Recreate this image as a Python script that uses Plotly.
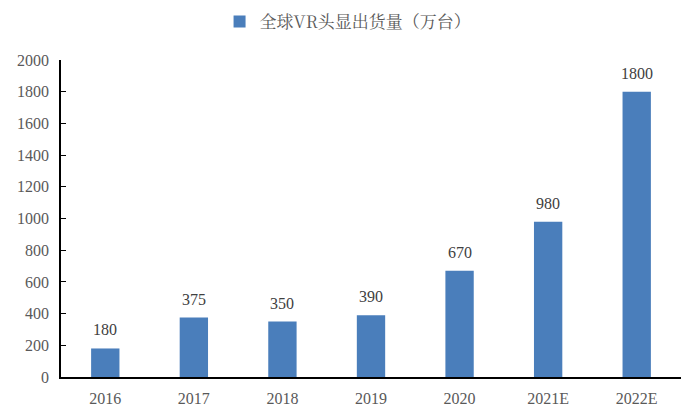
import plotly.graph_objects as go

categories = ["2016", "2017", "2018", "2019", "2020", "2021E", "2022E"]
values = [180, 375, 350, 390, 670, 980, 1800]
series_name = "全球VR头显出货量（万台）"
y_ticks = [0, 200, 400, 600, 800, 1000, 1200, 1400, 1600, 1800, 2000]

fig = go.Figure()
fig.add_trace(go.Bar(
    x=categories, y=values, name=series_name,
    marker=dict(color="#4A7EBB", line=dict(width=0)),
    width=0.32,
    showlegend=True,
))
# value labels, placed at each category's index on the category axis
for i, v in enumerate(values):
    fig.add_annotation(x=i, y=v, text=str(v), showarrow=False,
                       yanchor="bottom", yshift=8,
                       font=dict(family="Liberation Serif", size=16, color="#404040"))

fig.update_layout(
    width=692, height=405,
    margin=dict(l=53, r=19, t=52, b=36, autoexpand=False),
    paper_bgcolor="white", plot_bgcolor="white",
    showlegend=True,
    legend=dict(orientation="h", x=0.463, xanchor="center", y=1.12, yanchor="middle",
                font=dict(family="Noto Serif CJK SC, Noto Sans CJK SC", size=17, color="#595959"),
                itemwidth=30),
)
fig.update_xaxes(
    type="category", categoryorder="array", categoryarray=categories,
    range=[-0.5, len(categories) - 0.5],
    showline=True, linecolor="black", linewidth=1.5,
    ticks="", ticklabelstandoff=6,
    tickfont=dict(family="Liberation Serif", size=16, color="#595959"),
    showgrid=False,
)
fig.update_yaxes(
    range=[0, 2000], tickvals=y_ticks,
    showline=True, linecolor="black", linewidth=1.5,
    ticks="inside", ticklen=5, tickcolor="black", ticklabelstandoff=7,
    tickfont=dict(family="Liberation Serif", size=16, color="#595959"),
    showgrid=False, zeroline=False,
)
fig.write_html("out.html")
